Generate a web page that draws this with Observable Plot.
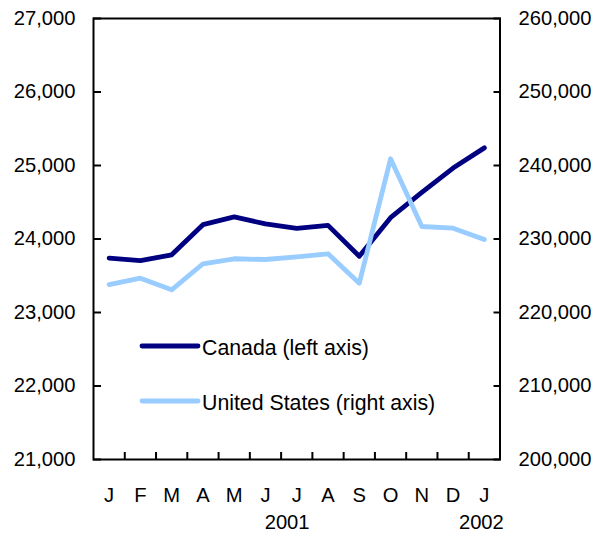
<!DOCTYPE html>
<html>
<head>
<meta charset="utf-8">
<script src="https://cdn.jsdelivr.net/npm/d3@7"></script>
<script src="https://cdn.jsdelivr.net/npm/@observablehq/plot@0.6"></script>
<style>
  html, body { margin: 0; padding: 0; background: #fff; }
</style>
</head>
<body>
<div id="chart"></div>
<script>
// ---- data ----
const months = ["J", "F", "M", "A", "M", "J", "J", "A", "S", "O", "N", "D", "J"];
const canada = [23740, 23705, 23785, 24195, 24300, 24205, 24145, 24185, 23765, 24290, 24635, 24965, 25240];
const unitedStates = [223800, 224670, 223090, 226630, 227310, 227210, 227580, 227990, 223990, 240910, 231700, 231470, 229930];
const leftTicks = [21000, 22000, 23000, 24000, 25000, 26000, 27000];
const rightTicks = [200000, 210000, 220000, 230000, 240000, 250000, 260000];
const years = ["2001", "2002"];
const seriesNames = ["Canada (left axis)", "United States (right axis)"];
const seriesColors = ["#000080", "#99CCFF"];

// ---- dual axis mapping (right axis -> left axis scale) ----
const lMin = leftTicks[0], lMax = leftTicks[leftTicks.length - 1];
const rMin = rightTicks[0], rMax = rightTicks[rightTicks.length - 1];
const toLeft = v => lMin + (v - rMin) * (lMax - lMin) / (rMax - rMin);
const toRight = v => rMin + (v - lMin) * (rMax - rMin) / (lMax - lMin);
const fmt = d3.format(",");

const idx = months.map((_, i) => i);
const boundaries = idx.slice(0, -1).map(i => i + 0.5);
const font = "'Liberation Sans', Arial, Helvetica, sans-serif";
const fs = 20.2;
const legendFs = 21.3;

const chart = Plot.plot({
  width: 605,
  height: 543,
  marginLeft: 93,
  marginRight: 105.5,
  marginTop: 18,
  marginBottom: 84,
  style: { fontFamily: font, fontSize: fs + "px", color: "#000", background: "#fff" },
  x: { domain: [-0.5, months.length - 0.5] },
  y: { domain: [lMin, lMax] },
  marks: [
    // inward tick marks
    Plot.axisX({ ticks: boundaries, tickSize: -7, fill: "none", strokeWidth: 2, label: null }),
    Plot.axisY({ anchor: "left", ticks: leftTicks, tickSize: -8, fill: "none", strokeWidth: 2, label: null }),
    Plot.axisY({ anchor: "right", ticks: rightTicks.map(toLeft), tickSize: -7, fill: "none", strokeWidth: 2, label: null }),
    // tick labels
    Plot.axisX({ ticks: idx, tickSize: 0, tickPadding: 28, tickFormat: i => months[i], label: null }),
    Plot.axisY({ anchor: "left", ticks: leftTicks, tickSize: 0, tickPadding: 18, tickFormat: fmt, label: null }),
    Plot.axisY({ anchor: "right", ticks: rightTicks.map(toLeft), tickSize: 0, tickPadding: 18.5, tickFormat: d => fmt(Math.round(toRight(d))), label: null }),
    // year labels
    Plot.text(years, {
      x: (d, i) => i === 0 ? d3.mean(idx.slice(0, 12)) : idx[12],
      text: d => d,
      frameAnchor: "bottom",
      dy: 69,
      fontSize: fs
    }),
    // series
    Plot.line(canada, { x: (d, i) => i, y: d => d, stroke: seriesColors[0], strokeWidth: 4.8, strokeLinejoin: "round", strokeLinecap: "round" }),
    Plot.line(unitedStates, { x: (d, i) => i, y: d => toLeft(d), stroke: seriesColors[1], strokeWidth: 4.8, strokeLinejoin: "round", strokeLinecap: "round" }),
    Plot.frame({ stroke: "#000", strokeWidth: 2 })
  ]
});

document.getElementById("chart").appendChild(chart);

// nudge year labels to match reference placement
const svg = d3.select(chart);
svg.selectAll("text").filter(function () { return this.textContent === "2001"; }).attr("transform", function () {
  const t = d3.select(this).attr("transform") || "";
  return t + " translate(6,0)";
});
svg.selectAll("text").filter(function () { return this.textContent === "2002"; }).attr("transform", function () {
  const t = d3.select(this).attr("transform") || "";
  return t + " translate(-3,0)";
});

// legend inside the plot area
const legend = svg.append("g")
  .attr("font-family", font)
  .attr("font-size", legendFs + "px")
  .attr("text-anchor", "start");
const legendY = [346, 401];
seriesNames.forEach((name, i) => {
  legend.append("line")
    .attr("x1", 142).attr("x2", 198)
    .attr("y1", legendY[i]).attr("y2", legendY[i])
    .attr("stroke", seriesColors[i]).attr("stroke-width", 4.8).attr("stroke-linecap", "round");
  legend.append("text")
    .attr("x", 202).attr("y", legendY[i] + 2.5).attr("dy", "0.32em")
    .attr("text-anchor", "start")
    .attr("fill", "#000").text(name);
});
</script>
</body>
</html>
